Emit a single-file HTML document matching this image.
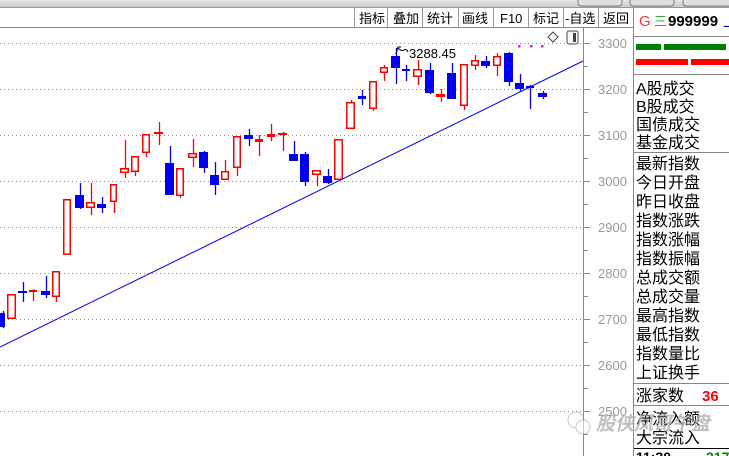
<!DOCTYPE html>
<html><head><meta charset="utf-8"><style>
body{margin:0;width:729px;height:456px;overflow:hidden;background:#fff;font-family:"Liberation Sans","Noto Sans CJK SC",sans-serif;}
</style></head><body>
<svg id="s" width="729" height="456" xmlns="http://www.w3.org/2000/svg" style="position:absolute;left:0;top:0">
<defs><linearGradient id="g" x1="0" y1="0" x2="0" y2="1"><stop offset="0" stop-color="#e8e8e8"/><stop offset="1" stop-color="#c8c8c8"/></linearGradient></defs>
<rect x="0" y="0" width="729" height="7" fill="url(#g)"/>
<rect x="578" y="-4" width="44" height="10" rx="3" fill="#e0e0e0" stroke="#777"/>
<rect x="630" y="-4" width="44" height="10" rx="3" fill="#e0e0e0" stroke="#777"/>
<rect x="683" y="-4" width="50" height="10" rx="3" fill="#e0e0e0" stroke="#777"/>
<line x1="0" y1="7.5" x2="729" y2="7.5" stroke="#999"/>
<line x1="0" y1="27.5" x2="634" y2="27.5" stroke="#888"/>
<g font-size="13" fill="#000" font-family="Liberation Sans,Noto Sans CJK SC,sans-serif">
<text x="359" y="23">指标</text><text x="393" y="23">叠加</text><text x="427" y="23">统计</text><text x="462" y="23">画线</text><text x="500" y="23">F10</text><text x="533" y="23">标记</text><text x="565" y="23">-自选</text><text x="603" y="23">返回</text>
</g>
<g stroke="#999"><line x1="354.5" y1="8" x2="354.5" y2="27"/><line x1="387.5" y1="8" x2="387.5" y2="27"/><line x1="422.5" y1="8" x2="422.5" y2="27"/><line x1="458.5" y1="8" x2="458.5" y2="27"/><line x1="493.5" y1="8" x2="493.5" y2="27"/><line x1="528.5" y1="8" x2="528.5" y2="27"/><line x1="563.5" y1="8" x2="563.5" y2="27"/><line x1="598.5" y1="8" x2="598.5" y2="27"/></g>
<line x1="583.5" y1="28" x2="583.5" y2="456" stroke="#888"/>
<line x1="633.5" y1="8" x2="633.5" y2="456" stroke="#888"/>
<g id="grid" stroke="#888" stroke-dasharray="1,3"></g>
<g id="ticks" stroke="#888"></g>
<g id="lab" font-size="13" fill="#999" font-family="Liberation Sans,sans-serif"></g>
<line x1="0" y1="347" x2="583" y2="61" stroke="#0000ee" stroke-width="1"/>
<g id="c"></g>
<path d="M396 54 L398 47 L401 47 M398 48 Q402 52 404 50 Q406 48 408 52" stroke="#000" fill="none" stroke-width="1"/>
<text x="409" y="58" font-size="13" fill="#000">3288.45</text>
<g fill="#e020e0"><rect x="518" y="45" width="2.5" height="2.5"/><rect x="530" y="45" width="2.5" height="2.5"/><rect x="541" y="45" width="2.5" height="2.5"/></g>
<path d="M553 32 L558 37 L553 42 L548 37 Z" fill="none" stroke="#444"/>
<rect x="567" y="31" width="11" height="13" rx="2" fill="#fff" stroke="#444"/><rect x="573" y="33" width="3" height="9" fill="#444"/>
<text x="639" y="26" font-size="15" fill="#f33">G</text>
<text x="654" y="26" font-size="13" fill="#3a3">三</text>
<text x="668" y="26" font-size="15" font-weight="bold" fill="#000">999999</text>
<text x="723" y="26" font-size="15" fill="#00f">上</text>
<line x1="634" y1="36.5" x2="729" y2="36.5" stroke="#888"/>
<rect x="636" y="44" width="25" height="6" fill="#008000"/><rect x="664" y="44" width="62" height="6" fill="#008000"/>
<rect x="636" y="59" width="52" height="6" fill="#f00"/><rect x="691" y="59" width="38" height="6" fill="#f00"/>
<line x1="634" y1="74.5" x2="729" y2="74.5" stroke="#888"/>
<g font-size="16" fill="#000" font-family="Liberation Sans,Noto Sans CJK SC,sans-serif">
<text x="636" y="94">A股成交</text><text x="636" y="112">B股成交</text><text x="636" y="130">国债成交</text><text x="636" y="148">基金成交</text>
<text x="636" y="169">最新指数</text><text x="636" y="188">今日开盘</text><text x="636" y="207">昨日收盘</text><text x="636" y="226">指数涨跌</text><text x="636" y="245">指数涨幅</text><text x="636" y="264">指数振幅</text><text x="636" y="283">总成交额</text><text x="636" y="302">总成交量</text><text x="636" y="321">最高指数</text><text x="636" y="340">最低指数</text><text x="636" y="359">指数量比</text><text x="636" y="378">上证换手</text>
<text x="636" y="401">涨家数</text><text x="636" y="424">净流入额</text><text x="636" y="443">大宗流入</text>
</g>
<text x="702" y="401" font-size="15" font-weight="bold" fill="#f00">36</text>
<line x1="634" y1="152.5" x2="729" y2="152.5" stroke="#888"/>
<line x1="634" y1="383.5" x2="729" y2="383.5" stroke="#888"/>
<line x1="634" y1="405.5" x2="729" y2="405.5" stroke="#888"/>
<line x1="634" y1="448.5" x2="729" y2="448.5" stroke="#000"/>
<text x="636" y="462" font-size="14" font-weight="bold" fill="#000">11:30</text>
<text x="706" y="462" font-size="14" font-weight="bold" fill="#080">217</text>
<g opacity="0.55"><circle cx="576" cy="420" r="8" fill="none" stroke="#999"/><circle cx="583" cy="427" r="7" fill="#fff" stroke="#999"/></g>
<text x="596" y="430" font-size="19" font-style="italic" font-weight="bold" fill="#aaa" fill-opacity="0.75" font-family="Noto Sans CJK SC,sans-serif">股侠凤哥午盘</text>
</svg>
<script>
var ns="http://www.w3.org/2000/svg";
function el(p,t,a){var e=document.createElementNS(ns,t);for(var k in a)e.setAttribute(k,a[k]);document.getElementById(p).appendChild(e);return e;}
var levels=[3300,3200,3100,3000,2900,2800,2700,2600,2500];
levels.forEach(function(v,i){var y=43+i*46;
 el("grid","line",{x1:0,y1:y+0.5,x2:583,y2:y+0.5});
 el("ticks","line",{x1:584,y1:y+0.5,x2:590,y2:y+0.5});
 el("ticks","line",{x1:584,y1:y+23.5,x2:588,y2:y+23.5});
 var t=el("lab","text",{x:598,y:y+5});t.textContent=v;});
el("ticks","line",{x1:584,y1:20.5,x2:588,y2:20.5});
var C=[
[0,5,313,327,311,328,'b'],[7,16,294,319,294,319,'r'],[18,27,292,292,282,302,'b'],[29,37,291,291,289,301,'r'],
[41,50,291,295,276,298,'b'],[52,60,271,297,271,302,'r'],[63,71,199,255,199,255,'r'],[75,84,195,208,183,209,'b'],
[86,95,202,208,183,215,'r'],[97,106,204,208,197,213,'b'],[110,117,184,202,184,213,'r'],[120,129,168,173,140,178,'r'],
[131,139,156,172,156,176,'r'],[142,150,134,153,134,157,'r'],[154,163,132,134,122,145,'r'],[165,174,163,195,146,195,'b'],
[176,184,168,196,168,198,'r'],[188,197,153,158,139,167,'r'],[199,208,152,168,151,173,'b'],[210,219,175,185,162,195,'b'],
[221,229,171,180,160,180,'r'],[233,241,136,168,136,176,'r'],[244,253,135,139,129,146,'b'],[255,263,139,142,135,156,'r'],
[267,275,134,137,124,141,'r'],[278,287,133,135,132,151,'r'],[289,298,154,161,141,161,'b'],[300,309,154,182,152,186,'b'],
[312,321,170,175,170,186,'r'],[323,332,176,183,169,184,'b'],[334,343,139,180,139,180,'r'],[346,355,102,129,100,129,'r'],
[358,366,96,99,90,105,'b'],[369,377,81,109,81,111,'r'],[380,388,67,73,65,81,'r'],[391,400,56,68,48,84,'b'],
[402,410,70,70,65,81,'b'],[413,422,69,77,60,85,'r'],[425,434,70,93,63,94,'b'],[436,445,94,97,89,102,'r'],
[447,456,73,99,63,99,'b'],[460,468,64,106,64,110,'r'],[471,479,60,66,55,70,'r'],[481,490,61,66,56,68,'b'],
[493,501,56,66,53,76,'r'],[504,513,53,82,52,86,'b'],[515,524,83,89,74,92,'b'],[526,534,87,87,85,109,'b'],[538,547,93,97,91,99,'b']];
C.forEach(function(c){var x1=c[0],x2=c[1],t=c[2],b=c[3],wt=c[4],wb=c[5],col=c[6]=='r'?'#f00':'#0000ee';
 var cx=Math.round((x1+x2)/2)+0.5;
 el("c","line",{x1:cx,y1:wt,x2:cx,y2:wb,stroke:col,"stroke-width":1.3});
 if(b-t<2){el("c","rect",{x:x1,y:t-1,width:x2-x1,height:2,fill:col});}
 else if(c[6]=='r'){el("c","rect",{x:x1+0.75,y:t+0.75,width:x2-x1-1.5,height:b-t-1.5,fill:"#fff",stroke:col,"stroke-width":1.5});}
 else{el("c","rect",{x:x1,y:t,width:x2-x1,height:b-t,fill:col});}
});
</script>
</body></html>
